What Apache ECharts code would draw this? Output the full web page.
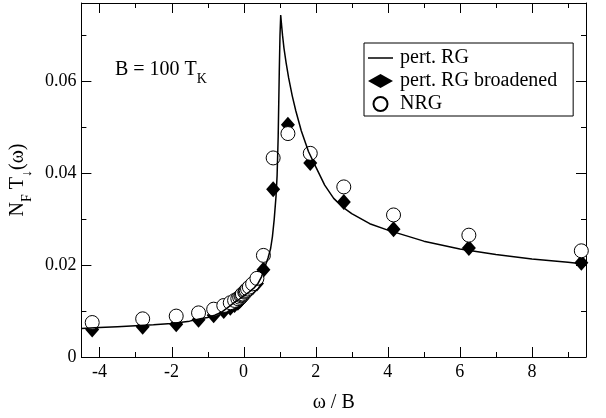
<!DOCTYPE html>
<html>
<head>
<meta charset="utf-8">
<script src="https://cdn.jsdelivr.net/npm/echarts@6/dist/echarts.min.js"></script>
<style>
  html, body { margin: 0; padding: 0; background: #fff; }
  #chart { width: 606px; height: 418px; }
</style>
</head>
<body>
<div id="chart"></div>
<script>
// Spin-down T-matrix at B = 100 T_K: perturbative RG curve, its broadened version, and NRG.
const rgOmega = [-4.5, -4, -3.5, -3, -2.5, -2, -1.5, -1.2, -1, -0.8, -0.6, -0.45, -0.3, -0.15, 0,
  0.15, 0.3, 0.4, 0.5, 0.6, 0.68, 0.75, 0.8, 0.85, 0.9, 0.93, 0.96, 0.99, 1.01, 1.03, 1.05, 1.08,
  1.12, 1.18, 1.25, 1.35, 1.45, 1.6, 1.8, 2.0, 2.25, 2.5, 2.75, 3.0, 3.5, 4.0, 4.5, 5, 6, 7, 8, 9, 9.5];
const rgT = [0.0062, 0.0064, 0.0066, 0.0068, 0.0070, 0.0073, 0.0078, 0.0083, 0.0086, 0.0091, 0.0098,
  0.0107, 0.0116, 0.0124, 0.0133, 0.0141, 0.0151, 0.0160, 0.0175, 0.0198, 0.0216, 0.0236, 0.0262,
  0.0300, 0.0350, 0.0395, 0.0480, 0.0620, 0.0700, 0.0744, 0.0725, 0.0700, 0.0672, 0.0640, 0.0607,
  0.0568, 0.0535, 0.0492, 0.0447, 0.0414, 0.0374, 0.0345, 0.0326, 0.0312, 0.0290, 0.0276, 0.0264,
  0.0252, 0.0235, 0.0223, 0.0213, 0.0206, 0.0202];

const ptOmega = [-4.2, -2.8, -1.87, -1.25, -0.83, -0.55, -0.37, -0.25, -0.16, -0.11, -0.073, -0.049,
  -0.033, 0.033, 0.049, 0.073, 0.11, 0.16, 0.25, 0.37, 0.55, 0.82, 1.23, 1.85, 2.78, 4.16, 6.25, 9.37];
const broadT = [0.0060, 0.0066, 0.0071, 0.0081, 0.0091, 0.0100, 0.0107, 0.0113, 0.0118, 0.0122,
  0.0125, 0.0127, 0.0129, 0.0134, 0.0136, 0.0138, 0.0141, 0.0145, 0.0151, 0.0160, 0.0190, 0.0365,
  0.0505, 0.0422, 0.0337, 0.0278, 0.0237, 0.0205];
const nrgT = [0.0075, 0.0083, 0.0089, 0.0096, 0.0104, 0.0112, 0.0118, 0.0123, 0.0127, 0.0130,
  0.0133, 0.0135, 0.0137, 0.0141, 0.0143, 0.0145, 0.0148, 0.0152, 0.0159, 0.0171, 0.0221, 0.0433,
  0.0486, 0.0443, 0.0370, 0.0309, 0.0265, 0.0231];

const xMajorTicks = [-4, -2, 0, 2, 4, 6, 8];
const xMinorTicks = [-3, -1, 1, 3, 5, 7, 9];
const yMajorTicks = [0, 0.02, 0.04, 0.06];
const yMinorTicks = [0.01, 0.03, 0.05, 0.07];

const X_MIN = -4.5, X_MAX = 9.5, Y_MIN = 0, Y_MAX = 0.077;
const FONT = "'Liberation Serif', 'Times New Roman', serif";
const MAJOR_LEN = 10, MINOR_LEN = 5;

const zip = (xs, ys) => xs.map((x, i) => [x, ys[i]]);

// Frame axis: the border line (plus labels on the bottom / left side).
function frameAxis(position, min, max, labels, fmt, margin) {
  return {
    type: 'value', position: position, min: min, max: max,
    axisLine: { show: true, onZero: false, lineStyle: { color: '#000', width: 1 } },
    axisTick: { show: false },
    axisLabel: labels
      ? { show: true, customValues: labels, margin: margin, color: '#000', fontFamily: FONT,
          fontSize: 18, formatter: fmt }
      : { show: false },
    splitLine: { show: false }
  };
}

const xAxes = [
  frameAxis('bottom', X_MIN, X_MAX, xMajorTicks, v => String(v), 6),
  frameAxis('top', X_MIN, X_MAX, null)
];
xAxes[0].name = 'ω / B';
xAxes[0].nameLocation = 'middle';
xAxes[0].nameGap = 36;
xAxes[0].nameTextStyle = { color: '#000', fontFamily: FONT, fontSize: 20 };

const yAxes = [
  frameAxis('left', Y_MIN, Y_MAX, yMajorTicks, v => (v === 0 ? '0' : v.toFixed(2)), 5),
  frameAxis('right', Y_MIN, Y_MAX, null)
];
yAxes[0].name = '{m|N}{s|F}{m| T}{s|↓}{m|(ω)}';
yAxes[0].nameLocation = 'middle';
yAxes[0].nameRotate = 90;
yAxes[0].nameGap = 24;
yAxes[0].nameTextStyle = {
  color: '#000', fontFamily: FONT,
  rich: {
    m: { fontFamily: FONT, fontSize: 20, lineHeight: 22, verticalAlign: 'top', color: '#000' },
    s: { fontFamily: FONT, fontSize: 14, lineHeight: 14, padding: [12, 0, 0, 0], verticalAlign: 'top', color: '#000' }
  }
};

const fieldLabel = {
  type: 'text', id: 'fieldLabel', left: 115, top: 60, z: 10,
  style: {
    text: '{m|B = 100 T}{s|K}',
    rich: {
      m: { fontFamily: FONT, fontSize: 20, lineHeight: 22, verticalAlign: 'top', fill: '#000' },
      s: { fontFamily: FONT, fontSize: 14, lineHeight: 14, padding: [12, 0, 0, 0], verticalAlign: 'top', fill: '#000' }
    }
  }
};

const chart = echarts.init(document.getElementById('chart'));
chart.setOption({
  animation: false,
  grid: { left: 78, right: 20, top: 3, bottom: 61 },
  xAxis: xAxes,
  yAxis: yAxes,
  legend: {
    left: 364, top: 43, orient: 'vertical',
    padding: [5, 16, 2, 4], itemGap: 3, itemWidth: 25, itemHeight: 14,
    borderColor: '#000', borderWidth: 1, backgroundColor: '#fff',
    selectedMode: false, z: 20,
    textStyle: { color: '#000', fontFamily: FONT, fontSize: 20, lineHeight: 20, padding: [0, 0, 0, 2] },
    data: [
      { name: 'pert. RG', icon: 'path://M0,0L25,0L25,1.5L0,1.5Z' },
      { name: 'pert. RG broadened' },
      { name: 'NRG' }
    ]
  },
  graphic: [fieldLabel],
  series: [
    {
      name: 'pert. RG', type: 'line', data: zip(rgOmega, rgT),
      symbol: 'none', smooth: false,
      lineStyle: { color: '#000', width: 1.5 }, itemStyle: { color: '#000' }
    },
    {
      name: 'pert. RG broadened', type: 'scatter', data: zip(ptOmega, broadT),
      symbol: 'diamond', symbolSize: [14, 16],
      itemStyle: { color: '#000', opacity: 1 }
    },
    {
      name: 'NRG', type: 'scatter', data: zip(ptOmega, nrgT),
      symbol: 'circle', symbolSize: 14,
      itemStyle: { color: '#fff', borderColor: '#000', borderWidth: 1, opacity: 1 }
    }
  ]
});

// Inward-pointing ticks on all four sides, placed through the axes' own scales.
(function addFrameTicks() {
  const toX = v => chart.convertToPixel({ xAxisIndex: 0 }, v);
  const toY = v => chart.convertToPixel({ yAxisIndex: 0 }, v);
  const frameLeft = toX(X_MIN), frameRight = toX(X_MAX);
  const frameBottom = toY(Y_MIN), frameTop = toY(Y_MAX);
  const tickLine = (x1, y1, x2, y2) => ({
    type: 'line', silent: true, z: 5,
    shape: { x1: x1, y1: y1, x2: x2, y2: y2 },
    style: { stroke: '#000', lineWidth: 1 }
  });
  const tickMarks = [];
  [[xMajorTicks, MAJOR_LEN], [xMinorTicks, MINOR_LEN]].forEach(([vals, len]) => {
    vals.forEach(v => {
      const x = Math.round(toX(v)) + 0.5;
      tickMarks.push(tickLine(x, frameBottom, x, frameBottom - len));
      tickMarks.push(tickLine(x, frameTop, x, frameTop + len));
    });
  });
  [[yMajorTicks, MAJOR_LEN], [yMinorTicks, MINOR_LEN]].forEach(([vals, len]) => {
    vals.forEach(v => {
      const y = Math.round(toY(v)) + 0.5;
      tickMarks.push(tickLine(frameLeft, y, frameLeft + len, y));
      tickMarks.push(tickLine(frameRight, y, frameRight - len, y));
    });
  });
  chart.setOption({ graphic: [fieldLabel].concat(tickMarks) }, { replaceMerge: ['graphic'] });
})();
</script>
</body>
</html>
